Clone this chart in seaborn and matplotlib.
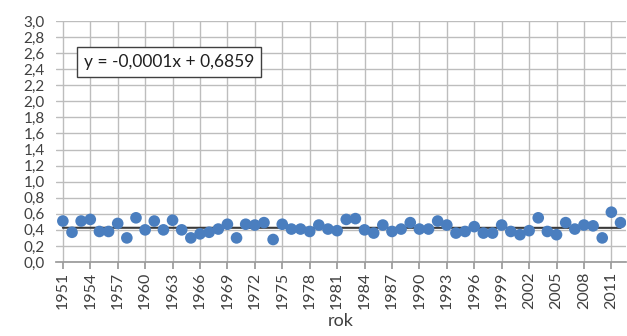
import numpy as np
import pandas as pd
import matplotlib
matplotlib.use("Agg")
import matplotlib.pyplot as plt
import seaborn as sns

years = list(range(1951, 2013))
values = [
    0.51, 0.37, 0.51, 0.53, 0.38, 0.38, 0.48, 0.30, 0.55, 0.40,
    0.51, 0.40, 0.52, 0.40, 0.30, 0.35, 0.37, 0.41, 0.47, 0.30,
    0.47, 0.46, 0.49, 0.28, 0.47, 0.41, 0.41, 0.38, 0.46, 0.41,
    0.39, 0.53, 0.54, 0.40, 0.36, 0.46, 0.38, 0.41, 0.49, 0.41,
    0.41, 0.51, 0.46, 0.36, 0.38, 0.44, 0.36, 0.36, 0.46, 0.38,
    0.34, 0.39, 0.55, 0.38, 0.34, 0.49, 0.41, 0.46, 0.45, 0.30,
    0.62, 0.49,
]
equation_label = "y = -0,0001x + 0,6859"
x_tick_years = list(range(1951, 2013, 3))
y_ticks = [round(0.2 * i, 1) for i in range(16)]

df = pd.DataFrame({"rok": years, "value": values})
slope, intercept = np.polyfit(df["rok"], df["value"], 1)
df["trend"] = slope * df["rok"] + intercept

sns.set_theme(style="white")
plt.rcParams["font.family"] = ["Lato", "DejaVu Sans"]

fig = plt.figure(figsize=(6.27, 3.36), dpi=100)
ax = fig.add_axes([56 / 627, 1 - 262 / 336, 570 / 627, 241 / 336])

sns.lineplot(data=df, x="rok", y="trend", ax=ax, color="#3a3a3a", linewidth=1.5, zorder=2)
sns.scatterplot(data=df, x="rok", y="value", ax=ax, color="#4a7ebf", s=70,
                edgecolor="none", zorder=3)

ax.set_xlim(1950.25, 2012.6)
ax.set_ylim(0, 3.0)
ax.set_xticks(x_tick_years)
ax.set_xticklabels([str(y) for y in x_tick_years], rotation=90, fontsize=11.5, color="#404040")
ax.set_yticks(y_ticks)
ax.set_yticklabels([f"{v:.1f}".replace(".", ",") for v in y_ticks], fontsize=11, color="#404040")
ax.grid(True, color="#bdbdbd", linewidth=1.0)
ax.set_axisbelow(True)
for side in ["top", "right", "left"]:
    ax.spines[side].set_visible(False)
ax.spines["bottom"].set_color("#9a9a9a")
ax.tick_params(axis="x", which="major", bottom=True, length=5, color="#9a9a9a", pad=2)
ax.tick_params(axis="y", left=False, pad=2)

ax.set_xlabel("rok", fontsize=13, color="#404040", labelpad=3)
ax.set_ylabel("")

ax.text(1953.3, 2.49, equation_label, fontsize=12.5, color="#202020", va="center", ha="left",
        bbox=dict(boxstyle="square,pad=0.38", facecolor="white", edgecolor="#404040", linewidth=1))

fig.savefig("out.png", dpi=100)
